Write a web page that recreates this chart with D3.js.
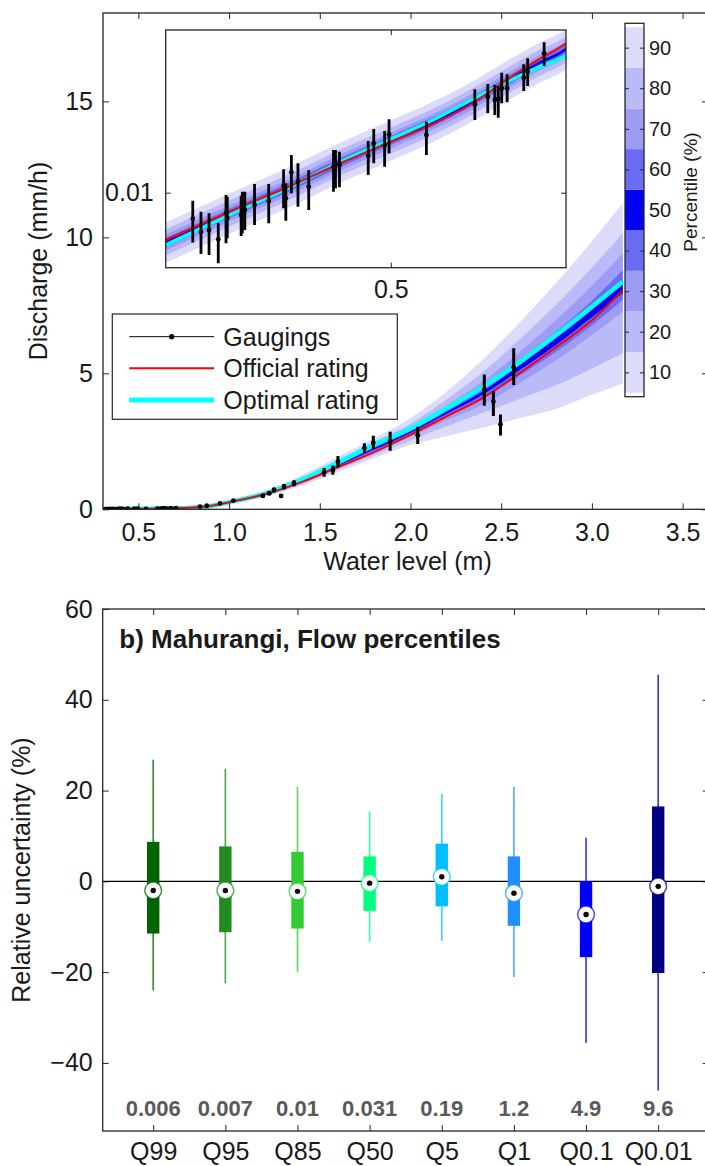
<!DOCTYPE html>
<html>
<head>
<meta charset="utf-8">
<script src="https://cdn.jsdelivr.net/npm/d3@7/dist/d3.min.js"></script>
<style>
  body { margin: 0; background: #fff; }
  svg { display: block; font-family: "Liberation Sans", Arial, Helvetica, sans-serif; }
</style>
</head>
<body>
<div id="chart"></div>
<script>
// ---- panel a: rating curve ----
var stage = [0.30, 0.35, 0.40, 0.45, 0.50, 0.55, 0.60, 0.65, 0.70, 0.744, 0.80, 0.90, 1.00, 1.20, 1.40, 1.60, 1.80, 2.00, 2.20, 2.40, 2.60, 2.80, 3.00, 3.17];
var officialQ = [0.0061, 0.00834, 0.01084, 0.01386, 0.01705, 0.02052, 0.0253, 0.0325, 0.0405, 0.0478, 0.065, 0.13, 0.26, 0.56, 1.0, 1.55, 2.1, 2.74, 3.42, 4.1, 5.0, 5.95, 6.95, 8.06];
var optimalQ = [0.00578, 0.00809, 0.01073, 0.01408, 0.01754, 0.0214, 0.0264, 0.0318, 0.0373, 0.0423, 0.06, 0.125, 0.26, 0.58, 1.08, 1.72, 2.38, 2.97, 3.72, 4.5, 5.4, 6.4, 7.45, 8.37];

var q95 = [0.00732, 0.01012, 0.01329, 0.01722, 0.0213, 0.0259, 0.0318, 0.0396, 0.0480, 0.0555, 0.080, 0.160, 0.320, 0.695, 1.25, 1.93, 2.62, 3.35, 4.33, 5.52, 6.86, 8.3, 9.86, 11.25];
var q85 = [0.00681, 0.00941, 0.01235, 0.01601, 0.0198, 0.0241, 0.0296, 0.0368, 0.0446, 0.0516, 0.0745, 0.149, 0.298, 0.650, 1.175, 1.81, 2.48, 3.15, 4.05, 5.05, 6.24, 7.5, 8.89, 10.15];
var q75 = [0.00646, 0.00892, 0.01172, 0.01519, 0.0188, 0.0228, 0.0280, 0.0349, 0.0423, 0.0489, 0.0707, 0.141, 0.283, 0.616, 1.118, 1.73, 2.36, 3.02, 3.83, 4.71, 5.77, 6.95, 8.21, 9.4];
var q65 = [0.00622, 0.00860, 0.01130, 0.01464, 0.0181, 0.0220, 0.0270, 0.0336, 0.0408, 0.0472, 0.0681, 0.136, 0.273, 0.596, 1.082, 1.68, 2.29, 2.93, 3.69, 4.49, 5.49, 6.52, 7.67, 8.8];
var q55 = [0.00603, 0.00834, 0.01095, 0.01419, 0.01757, 0.0213, 0.0262, 0.0326, 0.0395, 0.0457, 0.066, 0.132, 0.264, 0.579, 1.054, 1.64, 2.245, 2.87, 3.59, 4.34, 5.29, 6.27, 7.34, 8.4];
var q45 = [0.00585, 0.00808, 0.01061, 0.01375, 0.01702, 0.0207, 0.0254, 0.0316, 0.0383, 0.0443, 0.064, 0.128, 0.256, 0.561, 1.027, 1.60, 2.195, 2.81, 3.51, 4.22, 5.11, 6.03, 7.06, 7.95];
var q35 = [0.00567, 0.00783, 0.01029, 0.01333, 0.0165, 0.0200, 0.0246, 0.0306, 0.0371, 0.0429, 0.062, 0.124, 0.248, 0.545, 1.0, 1.565, 2.15, 2.75, 3.41, 4.07, 4.91, 5.78, 6.77, 7.7];
var q25 = [0.00546, 0.00755, 0.00992, 0.01285, 0.0159, 0.0193, 0.0237, 0.0295, 0.0358, 0.0414, 0.0598, 0.120, 0.239, 0.528, 0.967, 1.51, 2.08, 2.66, 3.27, 3.85, 4.63, 5.47, 6.41, 7.26];
var q15 = [0.00518, 0.00716, 0.00941, 0.01219, 0.01509, 0.0183, 0.0225, 0.0280, 0.0339, 0.0393, 0.0567, 0.113, 0.227, 0.500, 0.920, 1.45, 1.99, 2.53, 3.05, 3.55, 4.06, 4.55, 5.18, 5.74];
var q05 = [0.00480, 0.00664, 0.00872, 0.01130, 0.01398, 0.0170, 0.0209, 0.0260, 0.0315, 0.0364, 0.0527, 0.105, 0.211, 0.467, 0.867, 1.36, 1.88, 2.36, 2.70, 3.0, 3.35, 3.69, 4.21, 4.63];

var gaugeStage = [0.319, 0.325, 0.331, 0.338, 0.344, 0.345, 0.356, 0.357, 0.359, 0.367, 0.379, 0.392, 0.394, 0.399, 0.405, 0.415, 0.439, 0.441, 0.445, 0.475, 0.481, 0.493, 0.498, 0.542, 0.605, 0.623, 0.633, 0.638, 0.643, 0.651, 0.676, 0.682, 0.708,
  0.84, 0.877, 0.95, 1.024, 1.186, 1.222, 1.248, 1.287, 1.303, 1.358, 1.524, 1.572, 1.60, 1.746, 1.795, 1.888, 2.04, 2.407, 2.457, 2.496, 2.569];
var gaugeQ = [0.00762, 0.00663, 0.00677, 0.00614, 0.00811, 0.00767, 0.00792, 0.00817, 0.00835, 0.00879, 0.00917, 0.01073, 0.00943, 0.01238, 0.01122, 0.01065, 0.01313, 0.01365, 0.01336, 0.01473, 0.01677, 0.01647, 0.01843, 0.01829, 0.02522, 0.02732, 0.02639, 0.02667, 0.02982, 0.02982, 0.03333, 0.03548, 0.04302,
  0.10, 0.13, 0.22, 0.32, 0.49, 0.59, 0.71, 0.49, 0.83, 0.96, 1.36, 1.44, 1.75, 2.25, 2.45, 2.51, 2.72, 4.41, 3.96, 3.125, 5.22];
var gaugeLo = [0.00593, 0.00527, 0.00521, 0.00478, 0.00589, 0.00621, 0.00636, 0.00654, 0.00677, 0.00713, 0.00726, 0.00849, 0.00746, 0.00994, 0.00864, 0.00835, 0.01011, 0.01047, 0.01058, 0.01204, 0.0136, 0.01313, 0.01511, 0.01484, 0.0214, 0.02296, 0.02256, 0.02193, 0.02549, 0.02576, 0.02899, 0.03055, 0.03766,
  0.085, 0.11, 0.19, 0.28, 0.43, 0.52, 0.62, 0.43, 0.73, 0.85, 1.20, 1.27, 1.54, 2.06, 2.22, 2.15, 2.40, 3.81, 3.43, 2.71, 4.57];
var gaugeHi = [0.0092, 0.0082, 0.00806, 0.00726, 0.00976, 0.00959, 0.00969, 0.01011, 0.01011, 0.01095, 0.01095, 0.01278, 0.01104, 0.01484, 0.0136, 0.01268, 0.01564, 0.01564, 0.01536, 0.01718, 0.01948, 0.01908, 0.02157, 0.02103, 0.02951, 0.0312, 0.03087, 0.03055, 0.03512, 0.03454, 0.03834, 0.04083, 0.04828,
  0.115, 0.15, 0.25, 0.36, 0.55, 0.66, 0.80, 0.55, 0.93, 1.07, 1.52, 1.61, 1.96, 2.43, 2.70, 2.85, 3.04, 4.96, 4.35, 3.49, 5.92];

var xTicks = [0.5, 1, 1.5, 2, 2.5, 3, 3.5];
var yTicks = [0, 5, 10, 15];
var insetXTicks = [0.5];
var insetYTicks = [0.01];
var cbTicks = [10, 20, 30, 40, 50, 60, 70, 80, 90];
var cbLevels = [10, 20, 30, 40, 50, 60, 70, 80, 90];
var legendLabels = ["Gaugings", "Official rating", "Optimal rating"];

// ---- panel b: flow percentile uncertainty ----
var pctLabels = ["Q99", "Q95", "Q85", "Q50", "Q5", "Q1", "Q0.1", "Q0.01"];
var flowValues = ["0.006", "0.007", "0.01", "0.031", "0.19", "1.2", "4.9", "9.6"];
var whiskerLo = [-24.0, -22.5, -20.0, -13.4, -13.1, -21.1, -35.6, -46.1];
var boxLo = [-11.5, -11.2, -10.4, -6.5, -5.5, -9.8, -16.7, -20.2];
var medians = [-2.0, -2.0, -2.2, -0.4, 1.0, -2.6, -7.3, -1.1];
var boxHi = [8.7, 7.7, 6.5, 5.5, 8.3, 5.5, 0.0, 16.5];
var whiskerHi = [26.8, 24.8, 20.8, 15.4, 19.3, 20.8, 9.6, 45.5];
var relTicks = [-40, -20, 0, 20, 40, 60];

var boxColors = ["#006400", "#228b22", "#32cd32", "#00ff7f", "#00bfff", "#1e90ff", "#0000ff", "#000080"];
var bandColors = ["#dcdcfa", "#babaf8", "#9d9df5", "#6b6bf3", "#0000f4"];
var axisColor = "#262626";
var textColor = "#1a1a1a";

var svg = d3.select("#chart")
  .append("svg")
  .attr("width", 705)
  .attr("height", 1166);

svg.append("rect").attr("width", 705).attr("height", 1166).attr("fill", "#fff");

function fmtMinus(d) { return d < 0 ? "\u2212" + Math.abs(d) : String(d); }

function styleAxis(g, size) {
  g.select(".domain").remove();
  g.selectAll(".tick line").attr("stroke", axisColor).attr("stroke-width", 1);
  g.selectAll(".tick text")
    .attr("fill", textColor)
    .style("font-size", size + "px");
}

// ================= top panel =================
var x = d3.scaleLinear().domain([0.305, 3.64]).range([103, 708]);
var y = d3.scaleLinear().domain([0, 18.25]).range([509.3, 13]);

svg.append("clipPath").attr("id", "clipA")
  .append("rect").attr("x", 103).attr("y", 13).attr("width", 605).attr("height", 496.3);

var rows = stage.map(function (s, i) {
  return { s: s, off: officialQ[i], opt: optimalQ[i],
    b: [[q05[i], q95[i]], [q15[i], q85[i]], [q25[i], q75[i]], [q35[i], q65[i]], [q45[i], q55[i]]] };
});
var gaugings = gaugeStage.map(function (s, i) {
  return { s: s, q: gaugeQ[i], lo: gaugeLo[i], hi: gaugeHi[i] };
});

function drawRating(g, xs, ys, cyanW, barW) {
  bandColors.forEach(function (c, k) {
    g.append("path")
      .datum(rows)
      .attr("fill", c)
      .attr("d", d3.area()
        .curve(d3.curveMonotoneX)
        .x(function (d) { return xs(d.s); })
        .y0(function (d) { return ys(d.b[k][0]); })
        .y1(function (d) { return ys(d.b[k][1]); }));
  });
  g.append("path")
    .datum(rows)
    .attr("fill", "none")
    .attr("stroke", "#00ffff")
    .attr("stroke-width", cyanW)
    .attr("d", d3.line().curve(d3.curveMonotoneX)
      .x(function (d) { return xs(d.s); })
      .y(function (d) { return ys(d.opt); }));
  g.append("path")
    .datum(rows)
    .attr("fill", "none")
    .attr("stroke", "#ff0000")
    .attr("stroke-width", 2)
    .attr("d", d3.line().curve(d3.curveMonotoneX)
      .x(function (d) { return xs(d.s); })
      .y(function (d) { return ys(d.off); }));
  g.selectAll(".bar")
    .data(gaugings)
    .enter()
    .append("line")
    .attr("x1", function (d) { return xs(d.s); })
    .attr("x2", function (d) { return xs(d.s); })
    .attr("y1", function (d) { return ys(d.lo); })
    .attr("y2", function (d) { return ys(d.hi); })
    .attr("stroke", "#000")
    .attr("stroke-width", barW);
  g.selectAll(".dot")
    .data(gaugings)
    .enter()
    .append("circle")
    .attr("cx", function (d) { return xs(d.s); })
    .attr("cy", function (d) { return ys(d.q); })
    .attr("r", 2.4)
    .attr("fill", "#000");
}

var plotA = svg.append("g").attr("clip-path", "url(#clipA)");
drawRating(plotA, x, y, 4.5, 3);

// axes of top panel
svg.append("g")
  .attr("transform", "translate(0,509.3)")
  .call(d3.axisBottom(x).tickValues(xTicks).tickSizeInner(-6).tickSizeOuter(0).tickPadding(14))
  .call(styleAxis, 25);
svg.append("g")
  .attr("transform", "translate(0,13)")
  .call(d3.axisTop(x).tickValues(xTicks).tickSizeInner(-6).tickSizeOuter(0).tickFormat(""))
  .call(styleAxis, 25);
svg.append("g")
  .attr("transform", "translate(103,0)")
  .call(d3.axisLeft(y).tickValues(yTicks).tickSizeInner(-6).tickSizeOuter(0).tickPadding(10))
  .call(styleAxis, 25);
svg.append("g")
  .attr("transform", "translate(708,0)")
  .call(d3.axisRight(y).tickValues(yTicks).tickSizeInner(-6).tickSizeOuter(0).tickFormat(""))
  .call(styleAxis, 25);
svg.append("rect")
  .attr("x", 103).attr("y", 13).attr("width", 605).attr("height", 496.3)
  .attr("fill", "none").attr("stroke", axisColor).attr("stroke-width", 1.3);

svg.append("text")
  .attr("x", 407.5).attr("y", 570)
  .attr("text-anchor", "middle")
  .attr("fill", textColor)
  .style("font-size", "25px")
  .text("Water level (m)");
svg.append("text")
  .attr("transform", "translate(46.5,261) rotate(-90)")
  .attr("text-anchor", "middle")
  .attr("fill", textColor)
  .style("font-size", "25px")
  .text("Discharge (mm/h)");

// inset (log-log zoom on low flows)
var xi = d3.scaleLog().domain([0.3, 0.744]).range([165.7, 566]);
var yi = d3.scaleLog().domain([0.00456, 0.0549]).range([267.7, 30]);

svg.append("clipPath").attr("id", "clipI")
  .append("rect").attr("x", 165.7).attr("y", 30).attr("width", 400.3).attr("height", 237.7);
svg.append("rect")
  .attr("x", 165.7).attr("y", 30).attr("width", 400.3).attr("height", 237.7)
  .attr("fill", "#fff");
var plotI = svg.append("g").attr("clip-path", "url(#clipI)");
drawRating(plotI, xi, yi, 3.5, 2.8);

svg.append("g")
  .attr("transform", "translate(0,267.7)")
  .call(d3.axisBottom(xi).tickValues(insetXTicks).tickFormat(d3.format(".1f")).tickSizeInner(-5).tickSizeOuter(0).tickPadding(13))
  .call(styleAxis, 25);
svg.append("g")
  .attr("transform", "translate(0,30)")
  .call(d3.axisTop(xi).tickValues(insetXTicks).tickSizeInner(-5).tickSizeOuter(0).tickFormat(""))
  .call(styleAxis, 25);
svg.append("g")
  .attr("transform", "translate(165.7,0)")
  .call(d3.axisLeft(yi).tickValues(insetYTicks).tickFormat(d3.format(".2f")).tickSizeInner(-5).tickSizeOuter(0).tickPadding(12))
  .call(styleAxis, 25);
svg.append("g")
  .attr("transform", "translate(566,0)")
  .call(d3.axisRight(yi).tickValues(insetYTicks).tickSizeInner(-5).tickSizeOuter(0).tickFormat(""))
  .call(styleAxis, 25);
svg.append("rect")
  .attr("x", 165.7).attr("y", 30).attr("width", 400.3).attr("height", 237.7)
  .attr("fill", "none").attr("stroke", axisColor).attr("stroke-width", 1.3);

// legend
var legend = svg.append("g");
legend.append("rect")
  .attr("x", 112.3).attr("y", 314).attr("width", 285).attr("height", 105.3)
  .attr("fill", "#fff").attr("stroke", axisColor).attr("stroke-width", 1.2);
var legendY = [336.7, 368.3, 400];
legend.append("line").attr("x1", 129.3).attr("x2", 214).attr("y1", legendY[0]).attr("y2", legendY[0])
  .attr("stroke", "#000").attr("stroke-width", 1);
legend.append("circle").attr("cx", 171.7).attr("cy", legendY[0]).attr("r", 2.6).attr("fill", "#000");
legend.append("line").attr("x1", 129.3).attr("x2", 214).attr("y1", legendY[1]).attr("y2", legendY[1])
  .attr("stroke", "#ff0000").attr("stroke-width", 2);
legend.append("line").attr("x1", 129.3).attr("x2", 214).attr("y1", legendY[2]).attr("y2", legendY[2])
  .attr("stroke", "#00ffff").attr("stroke-width", 5);
legend.selectAll(".lt")
  .data(legendLabels)
  .enter()
  .append("text")
  .attr("x", 223.3)
  .attr("y", function (d, i) { return legendY[i] + 9; })
  .attr("fill", textColor)
  .style("font-size", "25px")
  .text(function (d) { return d; });

// colorbar
var cb = d3.scaleLinear().domain([4, 96]).range([396.7, 23.3]);
var cbColor = function (v) { return bandColors[4 - Math.abs(v - 50) / 10]; };
svg.selectAll(".cb")
  .data(cbLevels)
  .enter()
  .append("rect")
  .attr("x", 625)
  .attr("width", 19)
  .attr("y", function (d) { return cb(Math.min(d + 5, 96)); })
  .attr("height", function (d) { return cb(Math.max(d - 5, 4)) - cb(Math.min(d + 5, 96)); })
  .attr("fill", cbColor);
svg.append("g")
  .attr("transform", "translate(644,0)")
  .call(d3.axisRight(cb).tickValues(cbTicks).tickSizeInner(-4).tickSizeOuter(0).tickPadding(5))
  .call(styleAxis, 20);
svg.append("g")
  .attr("transform", "translate(625,0)")
  .call(d3.axisLeft(cb).tickValues(cbTicks).tickSizeInner(-4).tickSizeOuter(0).tickFormat(""))
  .call(styleAxis, 20);
svg.append("rect")
  .attr("x", 625).attr("y", 23.3).attr("width", 19).attr("height", 373.4)
  .attr("fill", "none").attr("stroke", axisColor).attr("stroke-width", 1.3);
svg.append("text")
  .attr("transform", "translate(697,192) rotate(-90)")
  .attr("text-anchor", "middle")
  .attr("fill", textColor)
  .style("font-size", "19px")
  .text("Percentile (%)");

// ================= bottom panel =================
var xb = d3.scaleLinear().domain([0.3, 8.7]).range([102.7, 708.7]);
var yb = d3.scaleLinear().domain([-55, 60]).range([1131, 609]);

var boxes = pctLabels.map(function (p, i) {
  return { i: i + 1, p: p, v: flowValues[i], wl: whiskerLo[i], bl: boxLo[i], m: medians[i],
    bh: boxHi[i], wh: whiskerHi[i], c: boxColors[i] };
});

svg.append("line")
  .attr("x1", 102.7).attr("x2", 708.7)
  .attr("y1", yb(0)).attr("y2", yb(0))
  .attr("stroke", "#000").attr("stroke-width", 1.2);

var bx = svg.selectAll(".box")
  .data(boxes)
  .enter()
  .append("g");

bx.append("line")
  .attr("x1", function (d) { return xb(d.i); })
  .attr("x2", function (d) { return xb(d.i); })
  .attr("y1", function (d) { return yb(d.wl); })
  .attr("y2", function (d) { return yb(d.wh); })
  .attr("stroke", function (d) { return d.c; })
  .attr("stroke-opacity", 0.75)
  .attr("stroke-width", 1.7);
bx.append("rect")
  .attr("x", function (d) { return xb(d.i) - 6.2; })
  .attr("width", 12.4)
  .attr("y", function (d) { return yb(d.bh); })
  .attr("height", function (d) { return yb(d.bl) - yb(d.bh); })
  .attr("fill", function (d) { return d.c; });
bx.append("circle")
  .attr("cx", function (d) { return xb(d.i); })
  .attr("cy", function (d) { return yb(d.m); })
  .attr("r", 8.4)
  .attr("fill", "#fff")
  .attr("stroke", function (d) { return d.c; })
  .attr("stroke-opacity", 0.7)
  .attr("stroke-width", 1.5);
bx.append("circle")
  .attr("cx", function (d) { return xb(d.i); })
  .attr("cy", function (d) { return yb(d.m); })
  .attr("r", 2.7)
  .attr("fill", "#000");
bx.append("text")
  .attr("x", function (d) { return xb(d.i); })
  .attr("y", 1116)
  .attr("text-anchor", "middle")
  .attr("fill", "#5a5a5a")
  .style("font-size", "22px")
  .style("font-weight", "bold")
  .text(function (d) { return d.v; });

svg.append("text")
  .attr("x", 119.3).attr("y", 648)
  .attr("fill", textColor)
  .style("font-size", "26px")
  .style("font-weight", "bold")
  .text("b) Mahurangi, Flow percentiles");

var catTicks = boxes.map(function (d) { return d.i; });
svg.append("g")
  .attr("transform", "translate(0,1131)")
  .call(d3.axisBottom(xb).tickValues(catTicks).tickSizeInner(-6).tickSizeOuter(0).tickPadding(11)
    .tickFormat(function (d) { return pctLabels[d - 1]; }))
  .call(styleAxis, 25);
svg.append("g")
  .attr("transform", "translate(0,609)")
  .call(d3.axisTop(xb).tickValues(catTicks).tickSizeInner(-6).tickSizeOuter(0).tickFormat(""))
  .call(styleAxis, 25);
svg.append("g")
  .attr("transform", "translate(102.7,0)")
  .call(d3.axisLeft(yb).tickValues(relTicks).tickSizeInner(-6).tickSizeOuter(0).tickPadding(10).tickFormat(fmtMinus))
  .call(styleAxis, 25);
svg.append("g")
  .attr("transform", "translate(708.7,0)")
  .call(d3.axisRight(yb).tickValues(relTicks).tickSizeInner(-6).tickSizeOuter(0).tickFormat(""))
  .call(styleAxis, 25);
svg.append("rect")
  .attr("x", 102.7).attr("y", 609).attr("width", 606).attr("height", 522)
  .attr("fill", "none").attr("stroke", axisColor).attr("stroke-width", 1.3);

svg.append("text")
  .attr("transform", "translate(30,870) rotate(-90)")
  .attr("text-anchor", "middle")
  .attr("fill", textColor)
  .style("font-size", "25px")
  .text("Relative uncertainty (%)");
</script>
</body>
</html>
